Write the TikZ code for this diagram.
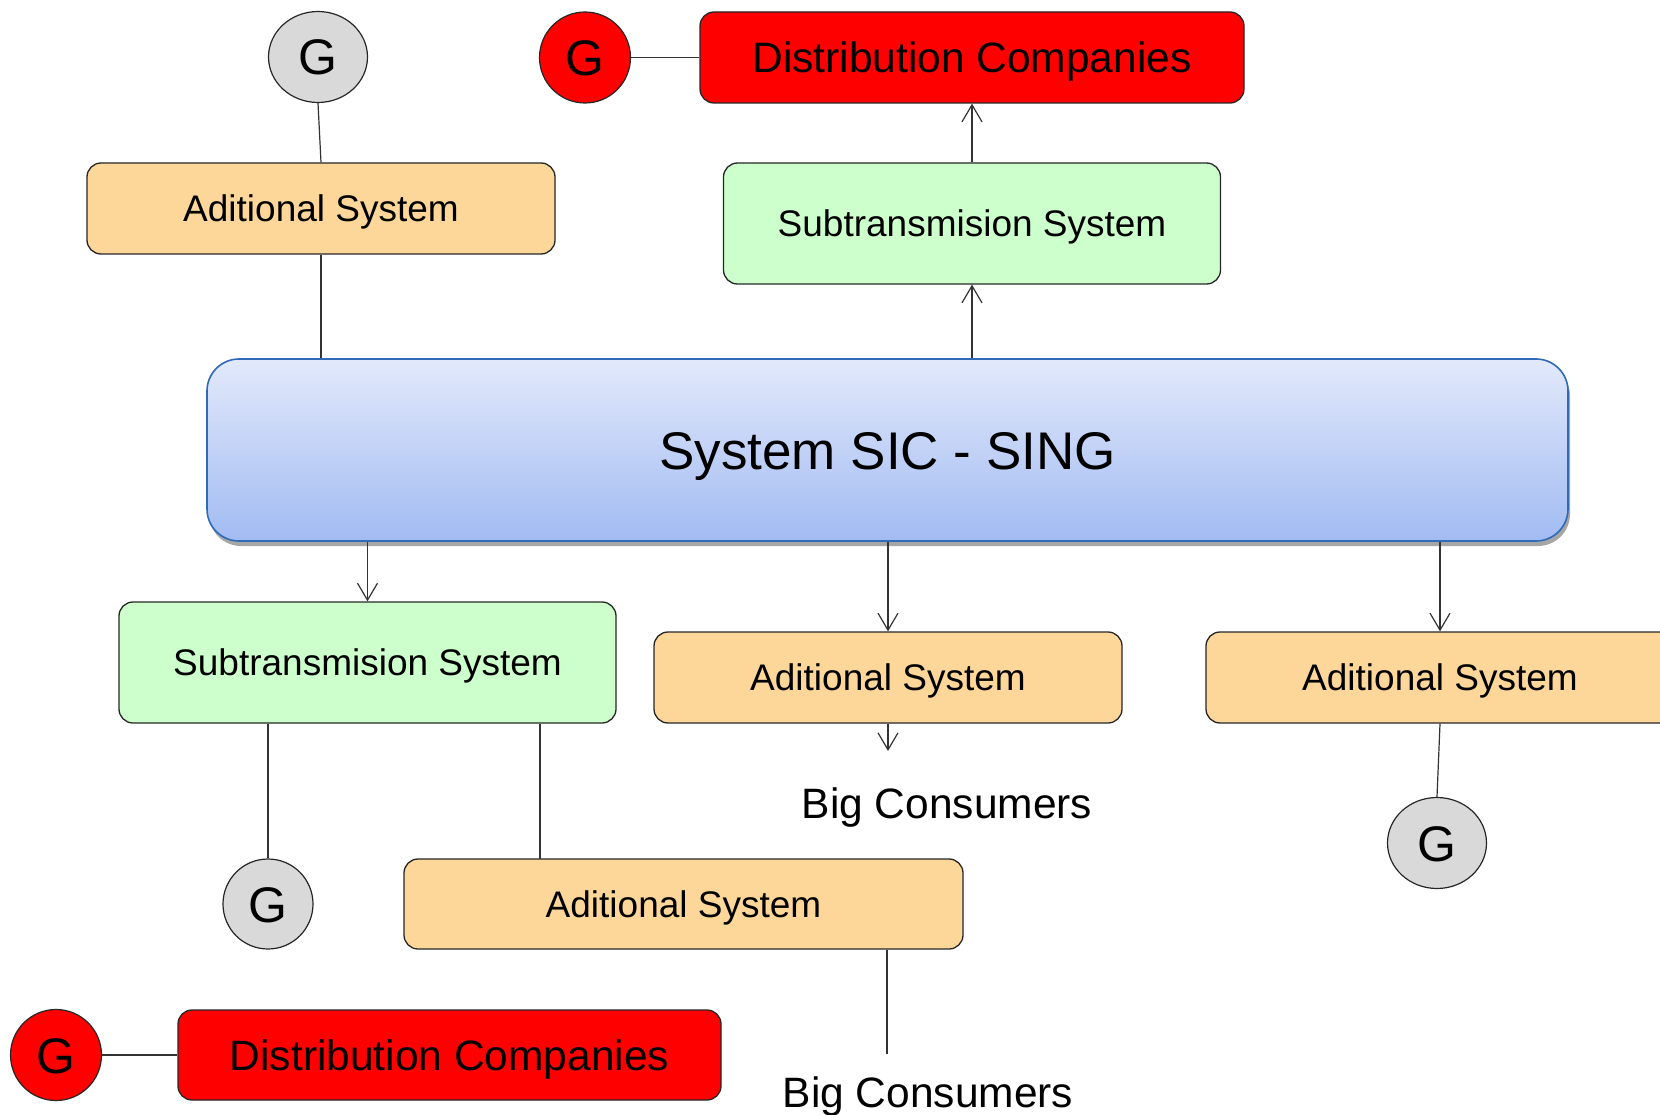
\documentclass[tikz,border=0pt]{standalone}
\usepackage{fontspec}
\setmainfont{Liberation Sans}
\usetikzlibrary{arrows.meta,shadows,shapes.geometric}
\definecolor{addfill}{HTML}{FDD69A}
\definecolor{subfill}{HTML}{CCFFCC}
\definecolor{gfill}{HTML}{D9D9D9}
\definecolor{redfill}{HTML}{FF0000}
\definecolor{sictop}{HTML}{E2E9FB}
\definecolor{sicbot}{HTML}{A2BBF2}
\definecolor{sicline}{HTML}{2E6AB8}
\definecolor{lin}{HTML}{333333}
\begin{document}
\begin{tikzpicture}[x=1pt,y=-1pt,
  box/.style={draw=black!85, line width=1.3pt, rounded corners=14pt, inner sep=0pt},
  addbox/.style={box, fill=addfill, minimum width=468pt, minimum height=91pt,
    font=\fontsize{37}{44}\selectfont, text height=26.5pt, text depth=0pt},
  subbox/.style={box, fill=subfill, minimum width=497pt, minimum height=121pt,
    font=\fontsize{37}{44}\selectfont, text height=26.5pt, text depth=0pt},
  distbox/.style={box, fill=redfill, minimum width=544pt, minimum height=91pt,
    font=\fontsize{42.5}{50}\selectfont, text height=30.5pt, text depth=0pt},
  gnode/.style={ellipse, draw=black!85, line width=1.2pt, inner sep=0pt,
    minimum height=91pt, font=\fontsize{50}{60}\selectfont, text height=36pt, text depth=0pt},
  ggrey/.style={gnode, fill=gfill, minimum width=99pt},
  gred/.style={gnode, fill=redfill, minimum width=91pt},
  sicbox/.style={draw=sicline, line width=1.6pt, rounded corners=32pt, inner sep=0pt,
    minimum width=1361pt, minimum height=182pt, top color=sictop, bottom color=sicbot,
    drop shadow={shadow xshift=2pt, shadow yshift=-5pt, opacity=0.35, fill=black},
    font=\fontsize{53}{62}\selectfont, text height=38pt, text depth=0pt},
  bigtxt/.style={anchor=base, inner sep=0pt, font=\fontsize{42.5}{50}\selectfont},
  con/.style={draw=lin, line width=1.2pt},
  arr/.style={con, -{Straight Barb[length=17pt, width=20pt, line width=1.2pt]}}
]
\useasboundingbox (0,0) rectangle (1660,1115);
\clip (0,0) rectangle (1660,1115);

% nodes
\node[ggrey] (gTL) at (318,57) {G};
\node[gred]  (gR1) at (585,57.5) {G};
\node[distbox] (dist1) at (972,57.5) {Distribution Companies};
\node[addbox] (addTL) at (321,208.5) {Aditional System};
\node[subbox] (sub1) at (972,223.5) {Subtransmision System};
\node[sicbox] (sic) at (887.5,450) {System SIC - SING};
\node[subbox] (sub2) at (367.5,662.5) {Subtransmision System};
\node[addbox] (addM) at (888,677.5) {Aditional System};
\node[addbox] (addR) at (1440,677.5) {Aditional System};
\node[ggrey] (g4) at (1437,843) {G};
\node[bigtxt] (bc1) at (947,818) {Big Consumers};
\node[gnode, fill=gfill, minimum width=90pt, minimum height=90pt] (g3) at (268,904) {G};
\node[addbox, minimum width=559pt, minimum height=90pt] (addB) at (683.5,904) {Aditional System};
\node[gred] (gR2) at (56,1055) {G};
\node[distbox, minimum width=543pt, minimum height=90pt] (dist2) at (449.5,1055) {Distribution Companies};
\node[bigtxt] (bc2) at (928,1107) {Big Consumers};

\coordinate (j1) at (540,859);
\coordinate (bc1t) at (888,751);
\coordinate (bc2t) at (887,1054);

% connectors
\draw[con] (gTL.south) -- (addTL.north);
\draw[con] (addTL.south) -- (sic.north -| addTL.south);
\draw[con] (gR1.east) -- (dist1.west);
\draw[arr] (sic.north -| sub1.south) -- (sub1.south);
\draw[arr] (sub1.north) -- (dist1.south);
\draw[arr] (sic.south -| sub2.north) -- (sub2.north);
\draw[arr] (sic.south -| addM.north) -- (addM.north);
\draw[arr] (sic.south -| addR.north) -- (addR.north);
\draw[arr] (addM.south) -- (bc1t);
\draw[con] (addR.south) -- (g4.north);
\draw[con] (sub2.south -| g3.north) -- (g3.north);
\draw[con] (sub2.south -| j1) -- (j1);
\draw[con] (addB.south -| bc2t) -- (bc2t);
\draw[con] (gR2.east) -- (dist2.west);
\end{tikzpicture}
\end{document}
